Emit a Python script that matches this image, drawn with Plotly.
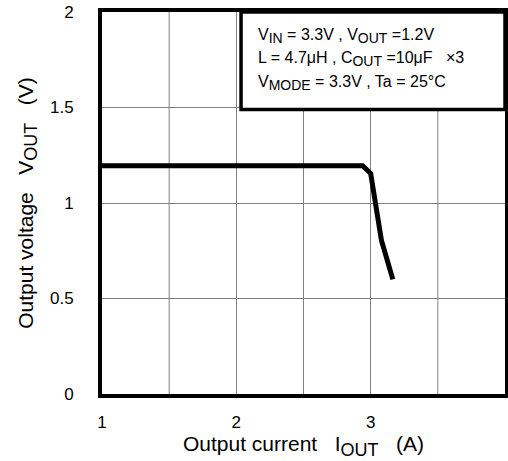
import plotly.graph_objects as go

# load characteristic
iout = [1.0, 2.94, 3.0, 3.08, 3.165]
vout = [1.195, 1.195, 1.155, 0.805, 0.6]

x_ticks = [1, 2, 3, 4]
y_ticks = [0, 0.5, 1, 1.5, 2]
y_labels = ["0", "0.5", "1", "1.5", "2"]

def sub(s, size=14):
    return "<sub><span style='font-size:%dpx'>%s</span></sub>" % (size, s)

notes = [
    "V" + sub("IN") + " = 3.3V , V" + sub("OUT") + " =1.2V",
    "L = 4.7μH , C" + sub("OUT") + " =10μF \u00a0 ×3",
    "V" + sub("MODE") + " = 3.3V , Ta = 25°C",
]
note_y = [1.875, 1.755, 1.63]

font = "Liberation Sans, Arial, sans-serif"
gap = "\u00a0\u00a0\u00a0"

fig = go.Figure(go.Scatter(
    x=iout, y=vout, mode="lines",
    line=dict(color="black", width=5),
    hoverinfo="skip",
))

fig.add_shape(type="rect", x0=2.035, x1=4, y0=1.49, y1=2,
              line=dict(color="black", width=3.5), fillcolor="white", layer="above")
for txt, yy in zip(notes, note_y):
    fig.add_annotation(x=2.15, y=yy, text=txt, showarrow=False, xanchor="left",
                       yanchor="middle", font=dict(size=16, color="black", family=font))

fig.update_layout(
    width=508, height=461,
    margin=dict(l=102, r=3, t=12, b=67),
    plot_bgcolor="white", paper_bgcolor="white",
    showlegend=False,
    font=dict(family=font, color="black", size=17),
)
fig.update_xaxes(
    range=[1, 4], tickmode="array", tickvals=x_ticks, ticktext=[str(v) for v in x_ticks],
    tickfont=dict(size=17, family=font, color="black"),
    showgrid=True, gridcolor="#808080", gridwidth=1,
    showline=True, linecolor="black", linewidth=4, mirror=True,
    ticks="", ticklabelstandoff=10, zeroline=False, automargin=False,
    title=dict(text="Output current" + gap + "I" + sub("OUT", 18) + gap + "(A)",
               font=dict(size=21), standoff=4),
)
fig.update_yaxes(
    range=[0, 2], tickmode="array", tickvals=y_ticks, ticktext=y_labels,
    tickfont=dict(size=17, family=font, color="black"),
    showgrid=True, gridcolor="#808080", gridwidth=1,
    showline=True, linecolor="black", linewidth=4, mirror=True,
    ticks="", ticklabelstandoff=21, zeroline=False, automargin=False,
    title=dict(text="Output voltage" + gap + "V" + sub("OUT", 18) + gap + "(V)",
               font=dict(size=21), standoff=12),
)
# extra vertical grid at half-amps
for xv in [1.5, 2.5, 3.5]:
    fig.add_vline(x=xv, line=dict(color="#808080", width=1), layer="below")

fig.write_html("out.html", config={"displayModeBar": False},
               post_script="document.body.style.margin='0';document.body.style.overflow='hidden';")
